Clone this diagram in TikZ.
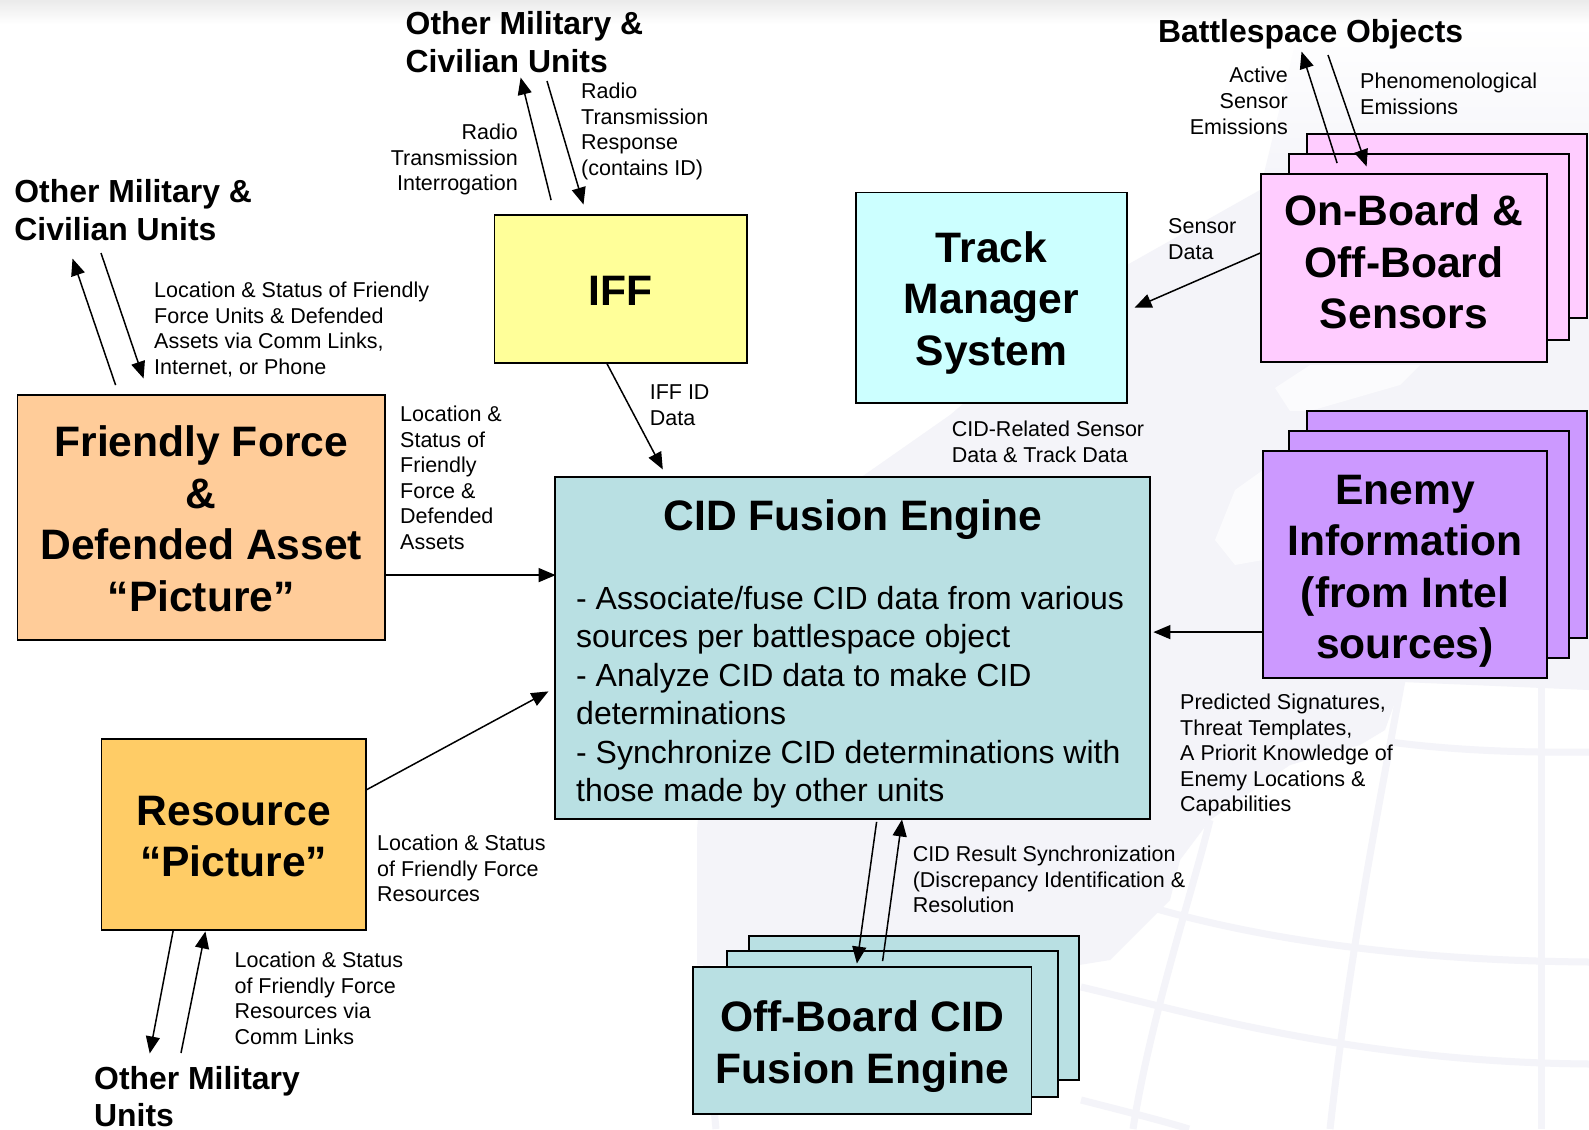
\documentclass[tikz,border=0pt]{standalone}
\usepackage{fontspec}
\setmainfont{Liberation Sans}
\usetikzlibrary{arrows.meta}
\definecolor{lav}{HTML}{F4F4F9}
\definecolor{cfriend}{HTML}{FFCC99}
\definecolor{cres}{HTML}{FFCC66}
\definecolor{ciff}{HTML}{FFFF99}
\definecolor{ctrack}{HTML}{CCFFFF}
\definecolor{ccid}{HTML}{B9E0E3}
\definecolor{csens}{HTML}{FFCCFF}
\definecolor{cenemy}{HTML}{CC99FF}
\tikzset{
  boxnode/.style={draw=black,line width=1.8pt,inner sep=0pt,align=center,font=\fontsize{42.6}{51.5}\selectfont\bfseries},
  lbl/.style={inner sep=0pt,align=left,yshift=-0.7pt,font=\fontsize{21.5}{25.6}\selectfont},
  lblr/.style={lbl,align=right},
  ext/.style={inner sep=0pt,align=left,yshift=-1pt,font=\fontsize{31.9}{38}\selectfont\bfseries},
  arr/.style={line width=1.5pt,shorten >=-1.5pt,-{Triangle[length=17pt,width=14pt]}},
  globe/.style={draw=lav,line width=7pt},
  patch/.style={fill=white!60!lav},
}
\begin{document}
\begin{tikzpicture}[x=1pt,y=-1pt]
\useasboundingbox (0,0) rectangle (1589,1129);
% background
\fill[white] (0,0) rectangle (1589,1129);
\shade[top color=black!8,bottom color=white] (0,0) rectangle (1589,24);
% watermark: land mass and globe grid
\shade[top color=white,bottom color=lav] (1300,24) -- (1589,24) -- (1589,190) -- (1260,190) -- cycle;
\fill[lav] (697,965) -- (697,830) -- (720,560) -- (860,478) -- (950,415) -- (1127,265) -- (1260,190)
  -- (1589,190) -- (1589,690) -- (1402,682) -- (1385,730) -- (1360,745) -- (1290,765)
  -- (1210,820) -- (1180,860) -- (1170,900) -- (1110,960) -- (1079,965) -- cycle;
\fill[patch] (1215,540) -- (1235,490) -- (1263,470) -- (1263,560) -- (1235,565) -- cycle;
\fill[patch] (1275,388) -- (1310,365) -- (1420,365) -- (1400,385) -- (1310,411) -- (1290,411) -- cycle;
\draw[globe] (1541,680) -- (1541,1129);
\draw[globe] (1402,680) .. controls (1380,800) and (1350,950) .. (1330,1129);
\draw[globe] (1210,820) .. controls (1190,900) and (1150,1020) .. (1133,1129);
\draw[globe] (713,827) .. controls (705,900) and (703,1000) .. (716,1129);
\draw[globe] (1390,742) .. controls (1450,750) and (1520,753) .. (1589,752);
\draw[globe] (1105,893) .. controls (1200,925) and (1350,960) .. (1589,962);
\draw[globe] (1081,987) .. controls (1180,1010) and (1350,1062) .. (1589,1064);
\draw[globe] (1081,1100) .. controls (1120,1110) and (1160,1120) .. (1189,1129);
% boxes
\node[boxnode,fill=csens,minimum width=280pt,minimum height=184pt] (sensBack) at (1447,226) {};
\node[boxnode,fill=csens,minimum width=280pt,minimum height=186pt] (sensMid) at (1429,247) {};
\node[boxnode,fill=csens,minimum width=286pt,minimum height=188pt] (sens) at (1404,268) {On-Board \&\\Off-Board\\Sensors\rule[-12pt]{0pt}{0pt}};
\node[boxnode,fill=cenemy,minimum width=280pt,minimum height=227pt] (enemyBack) at (1447,524.5) {};
\node[boxnode,fill=cenemy,minimum width=280pt,minimum height=227pt] (enemyMid) at (1429,544.5) {};
\node[boxnode,fill=cenemy,minimum width=284pt,minimum height=227pt] (enemy) at (1405,564.5) {\rule{0pt}{43pt}Enemy\\Information\\(from Intel\\sources)};
\node[boxnode,fill=ccid,minimum width=330pt,minimum height=144pt] (offBack) at (914,1008) {};
\node[boxnode,fill=ccid,minimum width=331pt,minimum height=146pt] (offMid) at (892.5,1024) {};
\node[boxnode,fill=ccid,minimum width=338.5pt,minimum height=147pt] (off) at (862.25,1040.5) {\rule{0pt}{43pt}Off-Board CID\\Fusion Engine};
\node[boxnode,fill=cfriend,minimum width=367.5pt,minimum height=245pt] (friend) at (201.25,517.5) {\rule{0pt}{33pt}Friendly Force\\\&\\Defended Asset\\“Picture”};
\node[boxnode,fill=cres,minimum width=264.5pt,minimum height=191pt] (res) at (233.75,834.5) {\rule{0pt}{33pt}Resource\\“Picture”};
\node[boxnode,fill=ciff,minimum width=252.5pt,minimum height=148pt] (iff) at (620.75,289) {\rule{0pt}{32pt}IFF};
\node[boxnode,fill=ctrack,minimum width=271pt,minimum height=210.5pt] (track) at (991.5,297.75) {\rule{0pt}{41pt}Track\\Manager\\System};
\node[boxnode,fill=ccid,minimum width=595pt,minimum height=342pt] (cid) at (852.5,648) {};
\node[inner sep=0pt,font=\fontsize{42.6}{51.5}\selectfont\bfseries,anchor=north] (cidTitle) at (853,499) {CID Fusion Engine};
\node[inner sep=0pt,anchor=north west,align=left,font=\fontsize{32}{38.5}\selectfont] (cidBody) at (576,586)
 {- Associate/fuse CID data from various\\sources per battlespace object\\- Analyze CID data to make CID\\determinations\\- Synchronize CID determinations with\\those made by other units};
% external labels
\node[ext,anchor=north west] (extTop) at (405.5,10) {Other Military \&\\Civilian Units};
\node[ext,anchor=north west] (extLeft) at (14.2,178) {Other Military \&\\Civilian Units};
\node[ext,anchor=north west,font=\fontsize{31.9}{37.5}\selectfont\bfseries] (extBottom) at (94,1065) {Other Military\\Units};
\node[ext,anchor=north west] (extObjects) at (1158,18) {Battlespace Objects};
% connector labels
\node[lblr,anchor=north east] (lInterrog) at (518,123) {Radio\\Transmission\\Interrogation};
\node[lbl,anchor=north west] (lResponse) at (581,82) {Radio\\Transmission\\Response\\(contains ID)};
\node[lbl,anchor=north west] (lFriendComm) at (154,281) {Location \& Status of Friendly\\Force Units \& Defended\\Assets via Comm Links,\\Internet, or Phone};
\node[lbl,anchor=north west] (lFriendData) at (400,405) {Location \&\\Status of\\Friendly\\Force \&\\Defended\\Assets};
\node[lbl,anchor=north west] (lIff) at (649.6,384) {IFF ID\\Data};
\node[lbl,anchor=north west] (lCidRel) at (951.6,420.5) {CID-Related Sensor\\Data \& Track Data};
\node[lbl,anchor=north west] (lSensor) at (1168,218) {Sensor\\Data};
\node[lblr,anchor=north east] (lActive) at (1288,66.5) {Active\\Sensor\\Emissions};
\node[lbl,anchor=north west] (lPhen) at (1360,72) {Phenomenological\\Emissions};
\node[lbl,anchor=north west] (lPred) at (1180,693) {Predicted Signatures,\\Threat Templates,\\A Priorit Knowledge of\\Enemy Locations \&\\Capabilities};
\node[lbl,anchor=north west] (lRes) at (377,834) {Location \& Status\\of Friendly Force\\Resources};
\node[lbl,anchor=north west] (lResComm) at (234.4,951) {Location \& Status\\of Friendly Force\\Resources via\\Comm Links};
\node[lbl,anchor=north west] (lSync) at (912.6,845) {CID Result Synchronization\\(Discrepancy Identification \&\\Resolution};
% free ends of the connectors
\coordinate (objUp) at (1302,53);
\coordinate (objDown) at (1328,55);
\coordinate (topUp) at (521,79);
\coordinate (topDown) at (547,81);
\coordinate (leftUp) at (73,260);
\coordinate (leftDown) at (101,253);
\coordinate (botDown) at (150,1052);
\coordinate (botUp) at (181,1053);
% connectors
\draw[arr] ([xshift=77pt,yshift=10pt]sens.north west) -- (objUp);
\draw[arr] (objDown) -- ([xshift=106pt,yshift=8pt]sens.north west);
\draw[arr] ([yshift=-80pt]sens.north west) -- ([xshift=8pt,yshift=-115.5pt]track.north east);
\draw[arr] ([yshift=-182pt]enemy.north west) -- ([xshift=4pt,yshift=-156pt]cid.north east);
\draw[arr] ([xshift=57.5pt,yshift=14pt]iff.north west) -- (topUp);
\draw[arr] (topDown) -- ([xshift=89.5pt,yshift=11pt]iff.north west);
\draw[arr] ([xshift=99pt,yshift=9pt]friend.north west) -- (leftUp);
\draw[arr] (leftDown) -- ([xshift=126.5pt,yshift=17pt]friend.north west);
\draw[arr] ([xshift=113.5pt]iff.south west) -- ([xshift=108pt,yshift=8pt]cid.north west);
\draw[arr] ([yshift=-181pt]friend.north east) -- ([yshift=-99pt]cid.north west);
\draw[arr] ([xshift=-1pt,yshift=-52pt]res.north east) -- ([xshift=-7pt,yshift=-216pt]cid.north west);
\draw[arr] ([xshift=72.5pt]res.south west) -- (botDown);
\draw[arr] (botUp) -- ([xshift=104.5pt,yshift=-2pt]res.south west);
\draw[arr] ([xshift=322.5pt,yshift=-2pt]cid.south west) -- ([xshift=165pt,yshift=4pt]off.north west);
\draw[arr] ([xshift=190.5pt,yshift=5pt]off.north west) -- ([xshift=347.7pt,yshift=-1pt]cid.south west);
\end{tikzpicture}
\end{document}
